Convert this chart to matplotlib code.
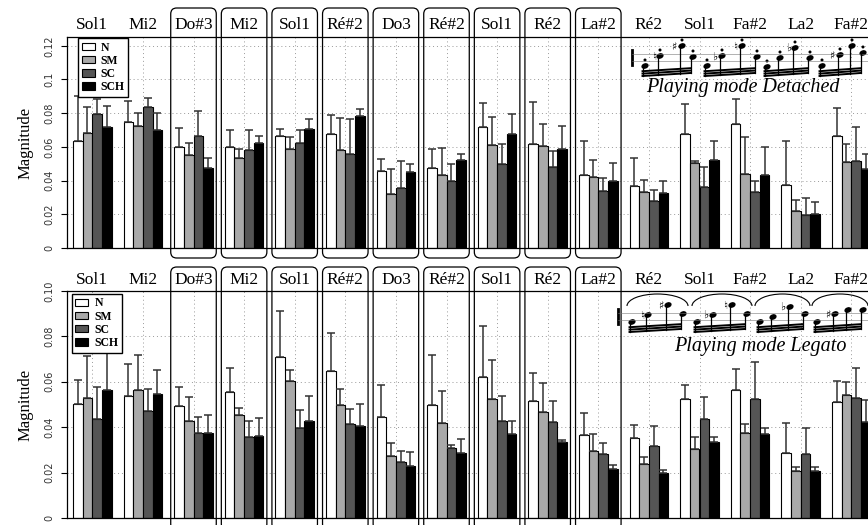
import numpy as np
import matplotlib
matplotlib.use("Agg")
import matplotlib.pyplot as plt
from matplotlib.patches import FancyBboxPatch, Ellipse, Arc, Patch
from matplotlib.lines import Line2D
from matplotlib.transforms import IdentityTransform, blended_transform_factory

# ---------------- data ----------------
notes = ["Sol1", "Mi2", "Do#3", "Mi2", "Sol1", "Ré#2", "Do3", "Ré#2",
         "Sol1", "Ré2", "La#2", "Ré2", "Sol1", "Fa#2", "La2", "Fa#2"]
series = ["N", "SM", "SC", "SCH"]
boxed = list(range(2, 11))   # groups drawn inside a rounded frame

# playing mode detached : mean and top of error bar
det_N = [0.0636, 0.0747, 0.0599, 0.0599, 0.0666, 0.0676, 0.0456, 0.0474,
         0.0719, 0.0620, 0.0433, 0.0368, 0.0674, 0.0735, 0.0373, 0.0664]
det_N_up = [0.0899, 0.0871, 0.0713, 0.0700, 0.0707, 0.0792, 0.0526, 0.0589,
            0.0860, 0.0864, 0.0632, 0.0532, 0.0852, 0.0887, 0.0632, 0.0828]
det_SM = [0.0682, 0.0723, 0.0549, 0.0534, 0.0585, 0.0581, 0.0320, 0.0435,
          0.0611, 0.0605, 0.0419, 0.0334, 0.0504, 0.0439, 0.0219, 0.0512]
det_SM_up = [0.0836, 0.0804, 0.0622, 0.0589, 0.0658, 0.0771, 0.0466, 0.0595,
             0.0777, 0.0737, 0.0520, 0.0403, 0.0518, 0.0656, 0.0287, 0.0618]
det_SC = [0.0794, 0.0834, 0.0664, 0.0581, 0.0622, 0.0557, 0.0356, 0.0395,
          0.0498, 0.0480, 0.0338, 0.0277, 0.0360, 0.0332, 0.0196, 0.0514]
det_SC_up = [0.0883, 0.0891, 0.0814, 0.0700, 0.0701, 0.0765, 0.0516, 0.0498,
             0.0617, 0.0575, 0.0417, 0.0342, 0.0482, 0.0399, 0.0294, 0.0717]
det_SCH = [0.0719, 0.0701, 0.0474, 0.0622, 0.0707, 0.0784, 0.0451, 0.0524,
           0.0676, 0.0587, 0.0397, 0.0328, 0.0524, 0.0435, 0.0200, 0.0468]
det_SCH_up = [0.0844, 0.0802, 0.0535, 0.0664, 0.0765, 0.0826, 0.0498, 0.0559,
              0.0794, 0.0721, 0.0506, 0.0395, 0.0636, 0.0597, 0.0273, 0.0559]

# playing mode legato
leg_N = [0.0501, 0.0537, 0.0494, 0.0556, 0.0709, 0.0648, 0.0445, 0.0497,
         0.0620, 0.0515, 0.0365, 0.0351, 0.0523, 0.0563, 0.0285, 0.0513]
leg_N_up = [0.0610, 0.0678, 0.0579, 0.0659, 0.0911, 0.0817, 0.0587, 0.0720,
            0.0845, 0.0638, 0.0463, 0.0409, 0.0588, 0.0656, 0.0417, 0.0603]
leg_SM = [0.0528, 0.0565, 0.0429, 0.0453, 0.0603, 0.0497, 0.0272, 0.0417,
          0.0523, 0.0466, 0.0295, 0.0240, 0.0303, 0.0373, 0.0209, 0.0542]
leg_SM_up = [0.0714, 0.0717, 0.0532, 0.0485, 0.0654, 0.0570, 0.0331, 0.0559,
             0.0698, 0.0595, 0.0368, 0.0269, 0.0356, 0.0416, 0.0226, 0.0597]
leg_SC = [0.0435, 0.0472, 0.0373, 0.0357, 0.0397, 0.0413, 0.0247, 0.0307,
          0.0426, 0.0423, 0.0284, 0.0319, 0.0438, 0.0523, 0.0281, 0.0528]
leg_SC_up = [0.0579, 0.0569, 0.0447, 0.0426, 0.0475, 0.0479, 0.0294, 0.0323,
             0.0538, 0.0517, 0.0332, 0.0406, 0.0534, 0.0688, 0.0395, 0.0660]
leg_SCH = [0.0565, 0.0547, 0.0373, 0.0363, 0.0426, 0.0406, 0.0231, 0.0285,
           0.0368, 0.0335, 0.0215, 0.0200, 0.0337, 0.0370, 0.0207, 0.0423]
leg_SCH_up = [0.0728, 0.0651, 0.0453, 0.0441, 0.0539, 0.0501, 0.0290, 0.0350,
              0.0429, 0.0345, 0.0232, 0.0210, 0.0356, 0.0395, 0.0226, 0.0519]

colors = ["white", "#a9a9a9", "#555555", "black"]
serif = ["Liberation Serif", "DejaVu Serif"]

W, H = 868, 525
fig = plt.figure(figsize=(W / 100, H / 100), dpi=100)


def pix(x, y):
    # image pixel (origin top-left) -> display coords
    return x, H - y


def plot_panel(ax, means, ups, ymax, ticks, ticklabels, label_y, box_y, leg_anchor):
    x = np.arange(len(notes))
    w = 0.19
    for k in range(4):
        m = np.array(means[k])
        up = np.array(ups[k]) - m
        ax.bar(x + (k - 1.5) * w, m, w, color=colors[k], edgecolor="black",
               linewidth=0.8, zorder=2)
        ax.errorbar(x + (k - 1.5) * w, m, yerr=[np.zeros_like(up), up], fmt="none",
                    ecolor="#333333", elinewidth=1.1, capsize=3.2, capthick=1.1, zorder=3)
    ax.set_xlim(-0.5, 15.5)
    ax.set_ylim(0, ymax)
    ax.set_yticks(ticks)
    ax.set_yticklabels(ticklabels)
    ax.set_xticks([])
    ax.set_xticks(x, minor=True)
    ax.tick_params(axis="x", which="minor", length=0)
    ax.grid(True, which="major", axis="y", ls=(0, (1, 3)), color="#999999", lw=0.7)
    ax.grid(True, which="minor", axis="x", ls=(0, (1, 3)), color="#999999", lw=0.7)
    ax.set_axisbelow(True)
    ax.tick_params(axis="y", length=4, labelsize=7, labelcolor="#333333", pad=5)
    for t in ax.get_yticklabels():
        t.set_rotation(90)
        t.set_va("center")
    for s in ax.spines.values():
        s.set_linewidth(0.9)
    ax.spines["right"].set_visible(False)
    ax.set_ylabel("Magnitude", family=serif, fontsize=12, labelpad=8)

    tr = blended_transform_factory(ax.transData, fig.transFigure)
    for i, n in enumerate(notes):
        ax.text(i, 1 - label_y / H, n, transform=tr, ha="center", va="center",
                family=serif, fontsize=12.5)
    for i in boxed:
        x0 = ax.transData.transform((i - 0.45, 0))[0]
        x1 = ax.transData.transform((i + 0.45, 0))[0]
        p = FancyBboxPatch((x0, H - box_y[1]), x1 - x0, box_y[1] - box_y[0],
                           boxstyle="round,pad=0,rounding_size=6",
                           transform=IdentityTransform(), fill=False,
                           edgecolor="black", linewidth=0.9)
        fig.add_artist(p)

    handles = [Patch(facecolor=c, edgecolor="black", linewidth=0.8) for c in colors]
    ax.legend(handles, series, loc="upper left", bbox_to_anchor=leg_anchor,
              borderaxespad=0, fancybox=False, edgecolor="black", framealpha=1,
              handlelength=1.1, handleheight=0.6, labelspacing=0.1,
              handletextpad=0.5, borderpad=0.3,
              prop={"family": serif, "weight": "bold", "size": 8.5})


def draw_score(heads, beam, bar, accidentals, slur, dots):
    lw = 0.9
    # staff bar and a couple of staff lines
    fig.add_artist(Line2D([pix(bar[0], bar[1])[0]] * 2, [H - bar[1], H - bar[2]],
                          transform=IdentityTransform(), color="black", lw=2))
    for yl in (bar[1] + 4, bar[2] - 4):
        fig.add_artist(Line2D([bar[0], W], [H - yl, H - yl], transform=IdentityTransform(),
                              color="#777777", lw=0.4))
    for g in heads:
        xs = [p[0] for p in g]
        for (hx, hy) in g:
            fig.add_artist(Ellipse(pix(hx, hy), 6, 4, angle=20, transform=IdentityTransform(),
                                   facecolor="black", edgecolor="black"))
            by = beam[0] + (beam[1] - beam[0]) * (hx - xs[0]) / (xs[-1] - xs[0])
            fig.add_artist(Line2D([hx - 2.5, hx - 2.5], [H - hy, H - by],
                                  transform=IdentityTransform(), color="black", lw=lw))
            if dots:
                fig.add_artist(Ellipse(pix(hx, hy - 6), 1.6, 1.6, transform=IdentityTransform(),
                                       color="black"))
        for k in range(3):
            fig.add_artist(Line2D([xs[0] - 2.5, xs[-1] - 2.5],
                                  [H - beam[0] + 2.4 * k, H - beam[1] + 2.4 * k],
                                  transform=IdentityTransform(), color="black", lw=1.4))
        if slur:
            cx = (xs[0] + xs[-1]) / 2
            fig.add_artist(Arc(pix(cx, slur + 12), xs[-1] - xs[0] + 10, 24, theta1=0, theta2=180,
                               transform=IdentityTransform(), color="black", lw=0.8))
    for (ax_, ay, sym) in accidentals:
        fig.text(ax_ / W, 1 - ay / H, sym, ha="center", va="center", fontsize=8,
                 family=["DejaVu Sans"])


# ---------------- top panel : detached ----------------
ax1 = fig.add_axes([67 / W, (H - 248) / H, 16 * 50.6 / W, 211 / H])
plot_panel(ax1, [det_N, det_SM, det_SC, det_SCH], [det_N_up, det_SM_up, det_SC_up, det_SCH_up],
           0.1252, [0, 0.02, 0.04, 0.06, 0.08, 0.1, 0.12],
           ["0", "0.02", "0.04", "0.06", "0.08", "0.1", "0.12"],
           25, (8, 258), (0.0136, 0.995))

# ---------------- bottom panel : legato ----------------
ax2 = fig.add_axes([67 / W, (H - 518) / H, 16 * 50.6 / W, 227 / H])
plot_panel(ax2, [leg_N, leg_SM, leg_SC, leg_SCH], [leg_N_up, leg_SM_up, leg_SC_up, leg_SCH_up],
           0.10, [0, 0.02, 0.04, 0.06, 0.08, 0.10],
           ["0", "0.02", "0.04", "0.06", "0.08", "0.10"],
           280, (267, 530), (0.006, 0.987))

# music excerpts
draw_score([[(645, 66), (660, 56), (682, 46), (693, 57)],
            [(707, 66), (722, 56), (742, 46), (757, 57)],
            [(767, 67), (780, 58), (795, 48), (810, 58)],
            [(822, 66), (840, 55), (852, 46), (863, 53)]],
           (76, 73), (632, 50, 65),
           [(654, 57, "♮"), (674, 47, "♯"), (715, 58, "♭"), (735, 47, "♮"),
            (789, 49, "♭"), (832, 56, "♯")], None, True)
fig.text(743 / W, 1 - 88 / H, "Playing mode Detached", ha="center", va="center",
         family=serif, style="italic", fontsize=14.5)

draw_score([[(632, 322), (648, 315), (668, 305), (683, 314)],
            [(697, 322), (713, 315), (732, 305), (747, 314)],
            [(760, 322), (773, 317), (790, 307), (805, 314)],
            [(817, 322), (835, 314), (848, 310), (863, 310)]],
           (332, 329), (618, 309, 324),
           [(642, 316, "♮"), (661, 306, "♯"), (706, 316, "♭"), (725, 306, "♮"),
            (783, 308, "♭"), (828, 315, "♯")], 294, False)
fig.text(760 / W, 1 - 347 / H, "Playing mode Legato", ha="center", va="center",
         family=serif, style="italic", fontsize=14.5)

fig.savefig("out.png", dpi=100)
